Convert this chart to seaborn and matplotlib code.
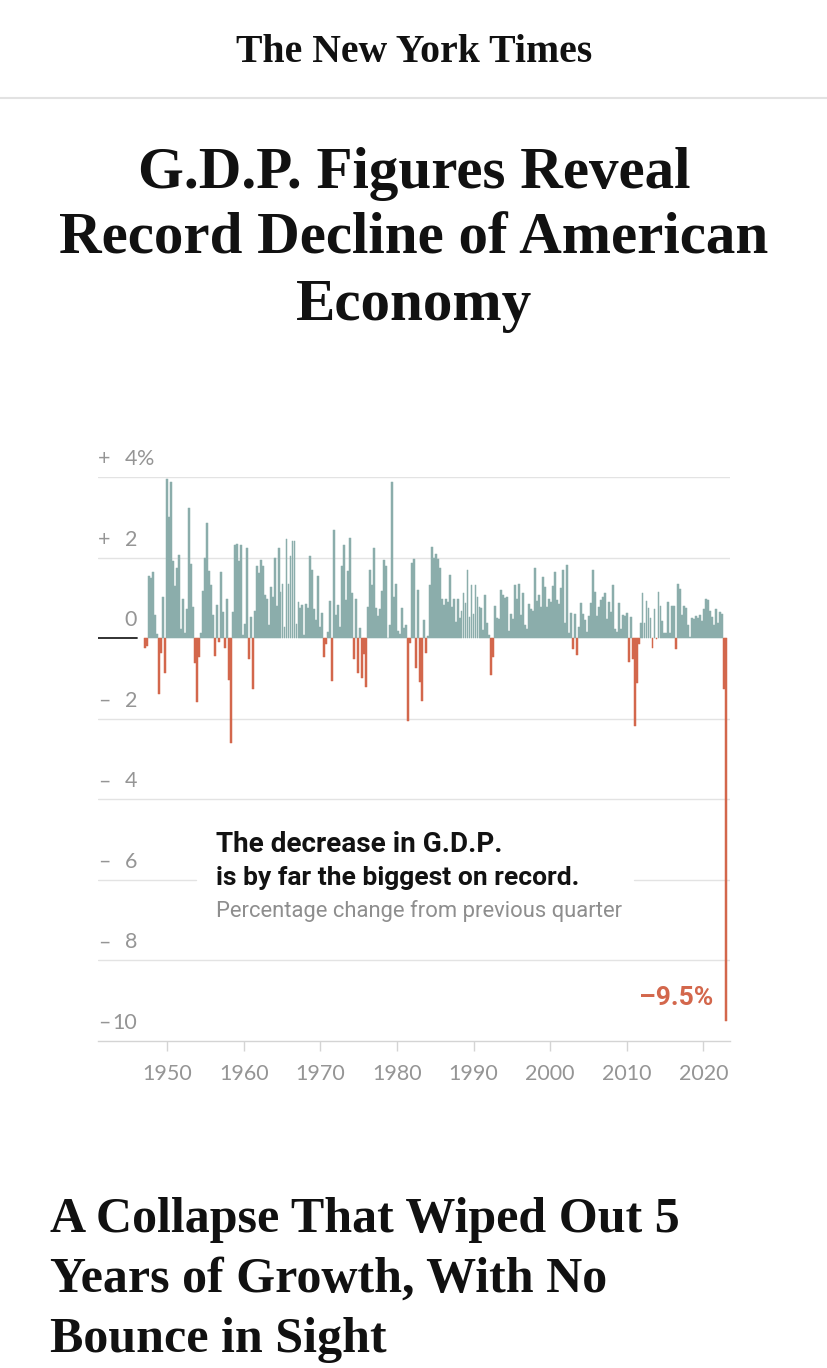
import numpy as np
import pandas as pd
import matplotlib
matplotlib.use("Agg")
import matplotlib.pyplot as plt
import matplotlib.transforms as mtransforms
import seaborn as sns

# ---------------- data: real GDP, % change from previous quarter ----------------
# 1947 Q2 .. 1949 Q4
gdp_1940s = [-0.25, -0.2, 1.55,
             1.5, 1.65, 0.57, 0.1,
             -1.38, -0.38, 1.03, -0.86]
gdp_1950s = [3.94, 3.0, 3.87, 1.92,
             1.3, 1.73, 2.06, 0.22,
             0.96, 0.12, 0.72, 3.24,
             1.85, 0.77, -0.61, -1.59,
             -0.48, 0.12, 1.16, 1.99,
             2.87, 1.66, 1.32, 0.57,
             -0.45, 0.82, -0.1, 1.64,
             0.64, -0.25, 0.96, -1.04,
             -2.6, 0.64, 2.32, 2.34,
             1.92, 2.3, 0.07, 0.35]
gdp_1960s = [2.25, -0.53, 0.52, -1.27,
             0.67, 1.8, 1.61, 1.94,
             1.8, 1.08, 0.96, 0.32,
             1.28, 1.03, 1.99, 0.79,
             2.25, 1.15, 1.35, 0.27,
             2.46, 1.35, 2.04, 2.41,
             2.41, 0.35, 0.89, 0.74,
             0.82, 0.07, 0.84, 0.74,
             2.04, 1.68, 0.72, 0.45,
             1.54, 0.27, 0.62, -0.48]
gdp_1970s = [-0.15, 0.15, 0.91, -1.07,
             2.69, 0.57, 0.82, 0.27,
             1.8, 2.32, 0.94, 1.66,
             2.48, 1.11, -0.53, 0.96,
             -0.86, 0.25, -0.99, -0.4,
             -1.22, 0.77, 1.68, 1.32,
             2.25, 0.74, 0.55, 0.72,
             1.18, 1.94, 1.8, 0.0,
             0.32, 3.87, 1.01, 1.35,
             0.17, 0.1, 0.74, 0.25]
gdp_1980s = [0.32, -2.06, -0.13, 1.87,
             1.96, -0.73, 1.2, -1.09,
             -1.56, 0.45, -0.38, 0.05,
             1.32, 2.27, 1.99, 2.09,
             1.96, 1.73, 0.96, 0.82,
             0.96, 0.89, 1.56, 0.77,
             0.96, 0.4, 0.96, 0.5,
             0.67, 1.11, 0.86, 1.7,
             0.52, 1.32, 0.6, 1.32,
             1.01, 0.77, 0.74, 0.2]
gdp_1990s = [1.08, 0.37, 0.07, -0.91,
             -0.48, 0.79, 0.5, 0.47,
             1.2, 1.08, 0.99, 1.03,
             0.17, 0.6, 0.47, 1.32,
             0.96, 1.35, 0.57, 1.13,
             0.32, 0.22, 0.84, 0.72,
             0.67, 1.75, 0.91, 1.06,
             0.77, 1.52, 1.28, 0.77,
             0.96, 0.89, 1.3, 1.64,
             0.94, 0.84, 1.25, 1.7]
gdp_2000s = [0.37, 1.82, 0.12, 0.62,
             -0.28, 0.6, -0.43, 0.27,
             0.86, 0.6, 0.45, 0.15,
             0.55, 0.86, 1.7, 1.15,
             0.55, 0.77, 0.94, 1.01,
             1.11, 0.47, 0.89, 0.64,
             1.32, 0.22, 0.15, 0.86,
             0.22, 0.57, 0.55, 0.62,
             -0.58, 0.52, -0.53, -2.17,
             -1.12, -0.15, 0.37, 1.11]
gdp_2010s = [0.37, 0.91, 0.74, 0.5,
             -0.25, 0.72, -0.03, 1.15,
             0.79, 0.42, 0.12, 0.12,
             0.89, 0.12, 0.79, 0.79,
             -0.28, 1.35, 1.23, 0.57,
             0.79, 0.74, 0.32, 0.03,
             0.5, 0.47, 0.55, 0.5,
             0.57, 0.42, 0.72, 0.96,
             0.94, 0.67, 0.52, 0.32,
             0.72, 0.37, 0.64, 0.6]
gdp_2020s = [-1.26, -9.5]

tick_years = [1950, 1960, 1970, 1980, 1990, 2000, 2010, 2020]
tick_labels = [str(y) for y in tick_years]
y_levels = [4, 2, 0, -2, -4, -6, -8, -10]
y_signs = ["+", "+", "", "\u2013", "\u2013", "\u2013", "\u2013", "\u2013"]
y_numbers = ["4", "2", "0", "2", "4", "6", "8", "10"]

headline = ["G.D.P. Figures Reveal", "Record Decline of American", "Economy"]
subhead = ["A Collapse That Wiped Out 5", "Years of Growth, With No", "Bounce in Sight"]
note_bold = ["The decrease in G.D.P.", "is by far the biggest on record."]
note_light = "Percentage change from previous quarter"
last_label = "\u20139.5%"

values = (gdp_1940s + gdp_1950s + gdp_1960s + gdp_1970s + gdp_1980s
          + gdp_1990s + gdp_2000s + gdp_2010s + gdp_2020s)
n = len(values)
df = pd.DataFrame({"idx": np.arange(n), "value": values})
df["sign"] = np.where(df["value"] < 0, "neg", "pos")

TEAL = "#8badab"
RED = "#d3674c"
GRID = "#e3e3e3"
LABEL_GRAY = "#959595"

# ---------------- figure ----------------
sns.set_theme(style="white")
plt.rcParams["font.family"] = ["Lato", "DejaVu Sans"]

W, H = 828, 1368
fig = plt.figure(figsize=(W / 100, H / 100), dpi=100)
fig.patch.set_facecolor("white")


def fx(px):
    return px / W


def fy(py):
    return 1 - py / H


renderer = fig.canvas.get_renderer()


def fit_text(x, y, s, target_w, size, **kw):
    t = fig.text(fx(x), fy(y), s, fontsize=size, **kw)
    w = t.get_window_extent(renderer).width
    t.set_fontsize(size * target_w / w)
    return t


SERIF = ["Liberation Serif", "DejaVu Serif"]

# masthead
fit_text(414, 62, "The New York Times", 356, 30, ha="center", va="baseline",
         family=SERIF, fontweight="bold", color="#111111")
fig.add_artist(plt.Line2D([0, 1], [fy(97.5), fy(97.5)], color="#e2e2e2", lw=1.5,
                          transform=fig.transFigure))

# headline
t2 = fit_text(414, 253, headline[1], 708, 40, ha="center", va="baseline",
              family=SERIF, fontweight="bold", color="#111111")
hs = t2.get_fontsize()
fig.text(fx(414), fy(188), headline[0], fontsize=hs, ha="center", va="baseline",
         family=SERIF, fontweight="bold", color="#111111")
fig.text(fx(414), fy(320), headline[2], fontsize=hs, ha="center", va="baseline",
         family=SERIF, fontweight="bold", color="#111111")

# sub headline
s1 = fit_text(50, 1232, subhead[0], 630, 34, ha="left", va="baseline",
              family=SERIF, fontweight="bold", color="#111111")
ss = s1.get_fontsize()
for txt, yb in zip(subhead[1:], [1292, 1352]):
    fig.text(fx(50), fy(yb), txt, fontsize=ss, ha="left", va="baseline",
             family=SERIF, fontweight="bold", color="#111111")

# ---------------- chart ----------------
ax = fig.add_axes([fx(98), fy(1041), fx(730) - fx(98), fy(477) - fy(1041)])
sns.barplot(data=df, x="idx", y="value", hue="sign",
            palette={"pos": TEAL, "neg": RED}, dodge=False, width=0.95,
            errorbar=None, legend=False, saturation=1, ax=ax)
for p in ax.patches:
    p.set_edgecolor(p.get_facecolor())
    p.set_linewidth(0.35)

px_per_idx = 1.989
first_bar_px = 145.3
ax.set_xlim((98 - first_bar_px) / px_per_idx, (730 - first_bar_px) / px_per_idx)
ax.set_ylim(-10, 4)

# decade ticks as placed in the original graphic
tick_pos = [(167.3 - first_bar_px) / px_per_idx + (y - 1950) * (536.0 / 70) / px_per_idx
            for y in tick_years]
ax.set_xticks(tick_pos, tick_labels)
ax.tick_params(axis="x", length=7.5, width=1, color="#d4d4d4", direction="out",
               pad=9, labelsize=15.5, labelcolor=LABEL_GRAY, bottom=True)
ax.set_yticks([])
ax.set_xlabel("")
ax.set_ylabel("")
for side in ["top", "left", "right"]:
    ax.spines[side].set_visible(False)
ax.spines["bottom"].set_color("#d4d4d4")
ax.spines["bottom"].set_linewidth(1)
ax.set_facecolor("white")

axw = 730 - 98
for v in [4, 2, -2, -4, -8]:
    ax.axhline(v, color=GRID, lw=1, zorder=0)
ax.axhline(-6, xmin=0, xmax=(196 - 98) / axw, color=GRID, lw=1, zorder=0)
ax.axhline(-6, xmin=(634 - 98) / axw, xmax=1, color=GRID, lw=1, zorder=0)
ax.axhline(0, xmin=0, xmax=(137 - 98) / axw, color="#222222", lw=1.3, zorder=3)

# y labels
ylab_tr = mtransforms.blended_transform_factory(ax.transAxes, ax.transData) + \
    mtransforms.ScaledTranslation(0, 12 / 100, fig.dpi_scale_trans)
num_x = (137 - 98) / axw
for lev, sg, num in zip(y_levels, y_signs, y_numbers):
    if sg:
        ax.text(0, lev, sg, transform=ylab_tr, ha="left", va="baseline",
                fontsize=15.5, color=LABEL_GRAY)
    ax.text(num_x, lev, num, transform=ylab_tr, ha="right", va="baseline",
            fontsize=15.5, color=LABEL_GRAY)
    if lev == 4:
        ax.text(num_x, lev, "%", transform=ylab_tr, ha="left", va="baseline",
                fontsize=15.5, color=LABEL_GRAY)

# annotation
SANS = ["Roboto", "DejaVu Sans"]
fit_text(216, 852, note_bold[0], 287, 16, ha="left", va="baseline",
         family=SANS, fontweight="bold", color="#121212")
fit_text(216, 885, note_bold[1], 364, 16, ha="left", va="baseline",
         family=SANS, fontweight="bold", color="#121212")
fit_text(216, 917, note_light, 406, 15, ha="left", va="baseline",
         family=SANS, fontweight="normal", color="#8e8e8e")
fit_text(713, 1005, last_label, 74, 16, ha="right", va="baseline",
         family=SANS, fontweight="bold", color=RED)

fig.savefig("out.png", dpi=100, facecolor="white")
